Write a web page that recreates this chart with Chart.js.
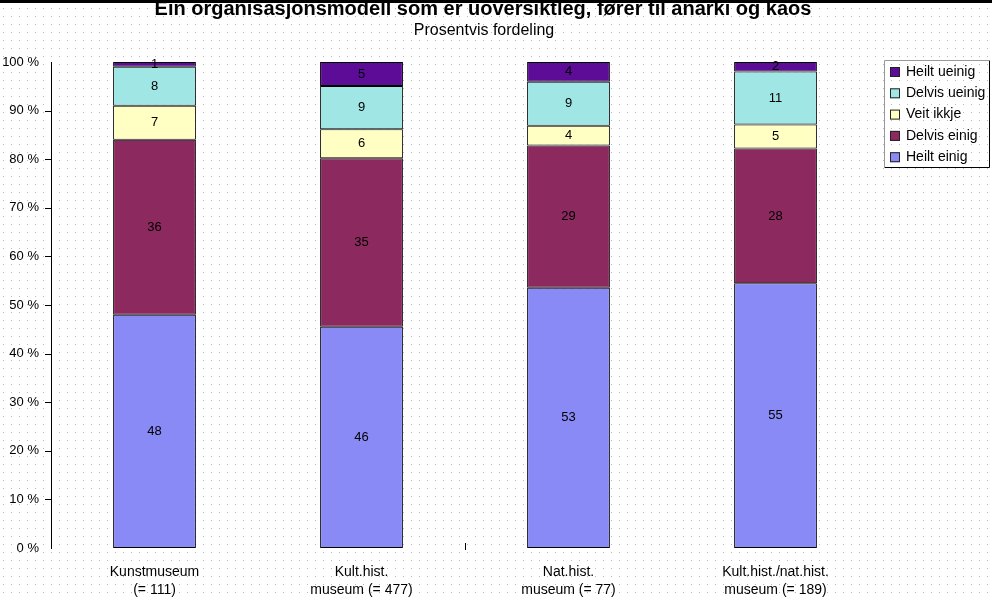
<!DOCTYPE html>
<html>
<head>
<meta charset="utf-8">
<script src="https://cdn.jsdelivr.net/npm/chart.js@4"></script>
<style>
  html, body { margin: 0; padding: 0; background: #fff; }
  #wrap { width: 992px; height: 597px; position: relative; }
</style>
</head>
<body>
<div id="wrap"><canvas id="chart" width="992" height="597"></canvas></div>
<script>
// categories (two-line labels)
const categories = [
    ['Kunstmuseum', '(= 111)'],
    ['Kult.hist.', 'museum (= 477)'],
    ['Nat.hist.', 'museum (= 77)'],
    ['Kult.hist./nat.hist.', 'museum (= 189)']
];

// values as printed in the bars, per answer
const heiltEinig   = [48, 46, 53, 55];
const delvisEinig  = [36, 35, 29, 28];
const veitIkkje    = [7, 6, 4, 5];
const delvisUeinig = [8, 9, 9, 11];
const heiltUeinig  = [1, 5, 4, 2];

const yTicks = [0, 10, 20, 30, 40, 50, 60, 70, 80, 90, 100];

const series = [
    { label: 'Heilt einig',   values: heiltEinig,   color: '#8a8af6' },
    { label: 'Delvis einig',  values: delvisEinig,  color: '#8c2a60' },
    { label: 'Veit ikkje',    values: veitIkkje,    color: '#ffffc4' },
    { label: 'Delvis ueinig', values: delvisUeinig, color: '#9fe6e4' },
    { label: 'Heilt ueinig',  values: heiltUeinig,  color: '#5c0c96' }
];

// bars are shares of each column's total (100 % stacked)
const totals = categories.map((c, i) => series.reduce((s, d) => s + d.values[i], 0));

const datasets = series.map(s => ({
    label: s.label,
    data: s.values.map((v, i) => v / totals[i] * 100),
    shown: s.values,
    backgroundColor: s.color,
    borderColor: '#000',
    borderWidth: 1,
    borderSkipped: false,
    barPercentage: 0.4,
    categoryPercentage: 1.0
}));

const FONT = 'Arial, "Liberation Sans", sans-serif';

// dotted background, frame, titles and y tick marks
const backdrop = {
    id: 'backdrop',
    beforeDraw(chart) {
        const c = chart.ctx;
        c.save();
        c.fillStyle = '#fff';
        c.fillRect(0, 0, chart.width, chart.height);
        c.fillStyle = '#b8b8b8';
        for (let y = 0; y < chart.height; y += 8) {
            for (let x = 3; x < chart.width; x += 8) {
                c.fillRect(x, y, 1, 1);
            }
        }
        c.restore();
    },
    afterDraw(chart) {
        const c = chart.ctx;
        const a = chart.chartArea;
        const ys = chart.scales.y;
        c.save();
        c.fillStyle = '#000';
        c.fillRect(0, 0, chart.width, 3);
        c.textAlign = 'center';
        c.textBaseline = 'middle';
        c.font = 'bold 20px ' + FONT;
        c.fillText('Ein organisasjonsmodell som er uoversiktleg, fører til anarki og kaos', 483, 9);
        c.font = '16px ' + FONT;
        c.fillText('Prosentvis fordeling', 484, 31);
        // tick marks on the value axis
        c.strokeStyle = '#000';
        c.lineWidth = 1;
        c.beginPath();
        yTicks.forEach(v => {
            if (v === 0 || v === 100) return;
            const y = Math.round(ys.getPixelForValue(v)) + 0.5;
            c.moveTo(a.left - 6, y);
            c.lineTo(a.left + 1, y);
        });
        c.stroke();
        // small mark in the middle of the category axis
        c.fillRect(Math.round((a.left + a.right) / 2), a.bottom - 5, 1, 7);
        c.restore();
    }
};

// value labels inside each segment
const valueLabels = {
    id: 'valueLabels',
    afterDatasetsDraw(chart) {
        const c = chart.ctx;
        c.save();
        c.font = '13px ' + FONT;
        c.fillStyle = '#000';
        c.textAlign = 'center';
        c.textBaseline = 'middle';
        chart.data.datasets.forEach((ds, di) => {
            chart.getDatasetMeta(di).data.forEach((bar, i) => {
                const mid = (bar.y + bar.base) / 2;
                c.fillText(String(ds.shown[i]), bar.x, mid);
            });
        });
        c.restore();
    }
};

// boxed legend at the right, last series on top
const boxLegend = {
    id: 'boxLegend',
    afterDraw(chart) {
        const c = chart.ctx;
        const left = 884, top = 60, w = 106, h = 108;
        c.save();
        c.fillStyle = '#fff';
        c.fillRect(left, top, w, h);
        c.fillStyle = '#b8b8b8';
        for (let y = 64; y < top + h; y += 8) {
            for (let x = 891; x < left + w; x += 8) c.fillRect(x, y, 1, 1);
        }
        c.strokeStyle = '#000';
        c.lineWidth = 1;
        c.beginPath();
        c.moveTo(left + 0.5, top + h - 0.5);
        c.lineTo(left + w - 0.5, top + h - 0.5);
        c.lineTo(left + w - 0.5, top + 0.5);
        c.stroke();
        c.strokeStyle = '#999';
        c.beginPath();
        c.moveTo(left + 0.5, top + h - 0.5);
        c.lineTo(left + 0.5, top + 0.5);
        c.lineTo(left + w - 0.5, top + 0.5);
        c.stroke();
        c.font = '14px ' + FONT;
        c.textBaseline = 'middle';
        const items = chart.data.datasets.slice().reverse();
        items.forEach((ds, k) => {
            const y = 72 + k * 21.3;
            c.fillStyle = ds.backgroundColor;
            c.fillRect(890, y - 5, 10, 10);
            c.strokeStyle = '#222';
            c.strokeRect(890.5, y - 4.5, 9, 9);
            c.fillStyle = '#000';
            c.fillText(ds.label, 906, y);
        });
        c.restore();
    }
};

new Chart(document.getElementById('chart'), {
    type: 'bar',
    data: { labels: categories, datasets: datasets },
    options: {
        responsive: false,
        animation: false,
        devicePixelRatio: 1,
        layout: { padding: { top: 62, right: 113, left: 0, bottom: 0 } },
        plugins: {
            legend: { display: false },
            title: { display: false },
            tooltip: { enabled: false }
        },
        scales: {
            x: {
                stacked: true,
                grid: { display: false },
                border: { display: false },
                ticks: {
                    color: '#000',
                    padding: 7,
                    maxRotation: 0,
                    autoSkip: false,
                    font: { family: FONT, size: 14, lineHeight: 1.28 }
                },
                afterFit(scale) { scale.height = 49; }
            },
            y: {
                stacked: true,
                min: 0,
                max: 100,
                afterBuildTicks(scale) { scale.ticks = yTicks.map(v => ({ value: v })); },
                grid: { display: false },
                border: { display: true, color: '#000', width: 1 },
                ticks: {
                    color: '#000',
                    padding: 4,
                    callback: v => v + ' %',
                    font: { family: FONT, size: 13 }
                },
                afterFit(scale) { scale.width = 51; }
            }
        }
    },
    plugins: [backdrop, valueLabels, boxLegend]
});
</script>
</body>
</html>
